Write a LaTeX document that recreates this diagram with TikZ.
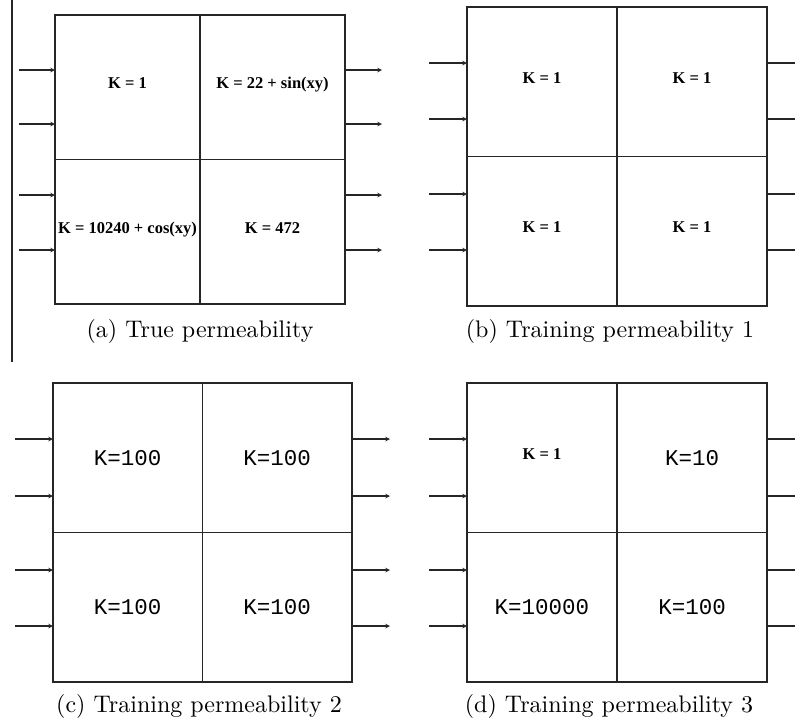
\documentclass[tikz,border=0pt]{standalone}
\usepackage{fontspec}
\newfontfamily\timesfont{Liberation Serif}
\newfontfamily\courierfont{Liberation Mono}
\newfontfamily\capfont{lmroman10-regular}[Extension=.otf]
\usetikzlibrary{arrows,positioning}

\begin{document}
\begin{tikzpicture}[
    x=1pt, y=-1pt,
    node distance=0pt,
    cell/.style={rectangle, draw=black!85, line width=1.4pt, outer sep=0pt, inner sep=0pt, minimum width=150pt, minimum height=149.5pt, text centered},
    timescell/.style={cell, text depth=8pt, font=\timesfont\bfseries\fontsize{16.5}{18}\selectfont},
    monocell/.style={cell, font=\courierfont\fontsize{22.5}{24}\selectfont},
    caption/.style={anchor=base, font=\capfont\fontsize{24}{26}\selectfont},
    flow/.style={->,>=stealth, line width=1.1pt, draw=black!85},
    cutflow/.style={line width=1.1pt, draw=black!85}
]
\useasboundingbox (0,0) rectangle (795,721);

% (a) True permeability
\node[timescell, anchor=north west, minimum width=145pt, minimum height=144.5pt] (a11) at (55,15) {K = 1};
\node[timescell, minimum width=145pt, minimum height=144.5pt, right=of a11] (a12) {K = 22 + sin(xy)};
\node[timescell, minimum width=145pt, minimum height=144.5pt, below=of a11] (a21) {K = 10240 + cos(xy)};
\node[timescell, minimum width=145pt, minimum height=144.5pt, right=of a21] (a22) {K = 472};
\node[caption] (capa) at (200,337) {(a) True permeability};

% (b) Training permeability 1
\node[timescell, anchor=north west] (b11) at (467,7) {K = 1};
\node[timescell, right=of b11] (b12) {K = 1};
\node[timescell, below=of b11] (b21) {K = 1};
\node[timescell, right=of b21] (b22) {K = 1};
\node[caption] (capb) at (610,337) {(b) Training permeability 1};

% (c) Training permeability 2
\node[monocell, anchor=north west, minimum width=149.5pt] (c11) at (53,383) {K=100};
\node[monocell, minimum width=149.5pt, right=of c11] (c12) {K=100};
\node[monocell, minimum width=149.5pt, below=of c11] (c21) {K=100};
\node[monocell, minimum width=149.5pt, right=of c21] (c22) {K=100};
\node[caption] (capc) at (199,712) {(c) Training permeability 2};

% (d) Training permeability 3
\node[timescell, anchor=north west] (d11) at (467,383) {K = 1};
\node[monocell, right=of d11] (d12) {K=10};
\node[monocell, below=of d11] (d21) {K=10000};
\node[monocell, right=of d21] (d22) {K=100};
\node[caption] (capd) at (609,712) {(d) Training permeability 3};

% inflow and outflow
\foreach \y [count=\i] in {70,124,195,250} {
  \coordinate (ain\i) at (19,\y);
  \coordinate (aout\i) at (382,\y);
  \draw[flow] (ain\i) -- (ain\i -| a11.west);
  \draw[flow] (aout\i -| a12.east) -- (aout\i);
}
\foreach \y [count=\i] in {63,119,194,250} {
  \coordinate (bin\i) at (429,\y);
  \coordinate (bout\i) at (795,\y);
  \draw[flow] (bin\i) -- (bin\i -| b11.west);
  \draw[cutflow] (bout\i -| b12.east) -- (bout\i);
}
\foreach \y [count=\i] in {439,496,570,626} {
  \coordinate (cin\i) at (15,\y);
  \coordinate (cout\i) at (390,\y);
  \draw[flow] (cin\i) -- (cin\i -| c11.west);
  \draw[flow] (cout\i -| c12.east) -- (cout\i);
  \coordinate (din\i) at (429,\y);
  \coordinate (dout\i) at (795,\y);
  \draw[flow] (din\i) -- (din\i -| d11.west);
  \draw[cutflow] (dout\i -| d12.east) -- (dout\i);
}

% separator
\coordinate (septop) at (12,0);
\coordinate (sepbot) at (12,362);
\draw[cutflow] (septop) -- (sepbot);

\end{tikzpicture}
\end{document}
